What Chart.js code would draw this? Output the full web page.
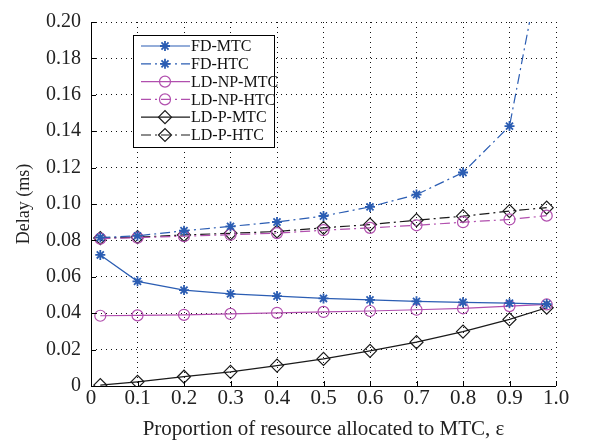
<!DOCTYPE html>
<html lang="en">
<head>
  <meta charset="UTF-8">
  <title>Delay vs proportion of resource</title>
  <script src="https://cdn.jsdelivr.net/npm/chart.js"></script>
  <style>
    body { margin: 0; background: #fff; }
    #wrap { width: 597px; height: 446px; }
  </style>
</head>
<body>
  <div id="wrap"><canvas id="delayChart" width="597" height="446"></canvas></div>

  <script>
    // x positions (epsilon)
    const eps = [0.02, 0.1, 0.2, 0.3, 0.4, 0.5, 0.6, 0.7, 0.8, 0.9, 0.98];

    const seriesNames = ['FD-MTC', 'FD-HTC', 'LD-NP-MTC', 'LD-NP-HTC', 'LD-P-MTC', 'LD-P-HTC'];

    const fdMtc   = [0.0720, 0.0575, 0.0527, 0.0506, 0.0494, 0.0481, 0.0473, 0.0465, 0.0460, 0.0455, 0.0450];
    const fdHtc   = [0.0816, 0.0825, 0.0853, 0.0877, 0.0901, 0.0934, 0.0984, 0.1052, 0.1173, 0.1428, 0.2490];
    const ldNpMtc = [0.0386, 0.0388, 0.0391, 0.0396, 0.0402, 0.0407, 0.0412, 0.0419, 0.0427, 0.0439, 0.0448];
    const ldNpHtc = [0.0810, 0.0815, 0.0823, 0.0831, 0.0840, 0.0856, 0.0869, 0.0883, 0.0900, 0.0915, 0.0936];
    const ldPMtc  = [0.0005, 0.0023, 0.0051, 0.0078, 0.0112, 0.0149, 0.0193, 0.0241, 0.0299, 0.0366, 0.0430];
    const ldPHtc  = [0.0813, 0.0818, 0.0830, 0.0839, 0.0849, 0.0869, 0.0887, 0.0911, 0.0933, 0.0961, 0.0980];

    const yTicks = [0, 0.02, 0.04, 0.06, 0.08, 0.10, 0.12, 0.14, 0.16, 0.18, 0.20];
    const xTicks = [0, 0.1, 0.2, 0.3, 0.4, 0.5, 0.6, 0.7, 0.8, 0.9, 1.0];

    const BLUE = '#2b5db3';
    const MAG = '#b14fae';
    const BLK = '#1a1a1a';
    const DASHDOT = [10, 4, 2, 4];
    const FONT = '"Liberation Serif", "Times New Roman", serif';

    function pts(arr) {
      return eps.map((x, i) => ({ x: x, y: arr[i] }));
    }

    function makeSet(name, arr, color, style, dash, radius) {
      return {
        label: name,
        data: pts(arr),
        borderColor: color,
        backgroundColor: 'rgba(0,0,0,0)',
        pointBorderColor: color,
        pointBackgroundColor: 'rgba(0,0,0,0)',
        pointStyle: style,
        pointRadius: radius,
        pointBorderWidth: style === 'star' ? 1.8 : 1.2,
        borderWidth: 1.2,
        borderDash: dash,
        tension: 0,
        clip: 0
      };
    }

    const datasets = [
      makeSet(seriesNames[0], fdMtc, BLUE, 'star', [], 5),
      makeSet(seriesNames[1], fdHtc, BLUE, 'star', DASHDOT, 5),
      makeSet(seriesNames[2], ldNpMtc, MAG, 'circle', [], 5.5),
      makeSet(seriesNames[3], ldNpHtc, MAG, 'circle', DASHDOT, 5.5),
      makeSet(seriesNames[4], ldPMtc, BLK, 'rectRot', [], 6.5),
      makeSet(seriesNames[5], ldPHtc, BLK, 'rectRot', DASHDOT, 6.5)
    ];

    // inward tick marks, matlab style
    const innerTicks = {
      id: 'innerTicks',
      afterDatasetsDraw(chart) {
        const ctx = chart.ctx;
        const xs = chart.scales.x, ys = chart.scales.y;
        const a = chart.chartArea;
        ctx.save();
        ctx.strokeStyle = '#000';
        ctx.lineWidth = 1;
        ctx.setLineDash([]);
        ctx.beginPath();
        xTicks.forEach(v => {
          const px = Math.round(xs.getPixelForValue(v)) + 0.5;
          ctx.moveTo(px, a.bottom);
          ctx.lineTo(px, a.bottom - 5);
        });
        yTicks.forEach(v => {
          const py = Math.round(ys.getPixelForValue(v)) + 0.5;
          ctx.moveTo(a.left, py);
          ctx.lineTo(a.left + 5, py);
        });
        // solid left and bottom axis lines
        ctx.moveTo(Math.round(a.left) + 0.5, a.top);
        ctx.lineTo(Math.round(a.left) + 0.5, Math.round(a.bottom) + 0.5);
        ctx.lineTo(a.right, Math.round(a.bottom) + 0.5);
        ctx.stroke();
        ctx.restore();
      }
    };

    // legend box drawn inside the plot
    const boxLegend = {
      id: 'boxLegend',
      afterDraw(chart) {
        const ctx = chart.ctx;
        const bx = 133, by = 35, bw = 141, bh = 112;
        ctx.save();
        ctx.fillStyle = '#fff';
        ctx.fillRect(bx, by, bw, bh);
        ctx.strokeStyle = '#000';
        ctx.lineWidth = 1;
        ctx.setLineDash([]);
        ctx.strokeRect(bx + 0.5, by + 0.5, bw, bh);
        ctx.font = '16px ' + FONT;
        ctx.textBaseline = 'middle';
        chart.data.datasets.forEach((ds, i) => {
          const y = by + 11 + i * 17.8;
          ctx.strokeStyle = ds.borderColor;
          ctx.lineWidth = ds.borderWidth;
          ctx.setLineDash(ds.borderDash);
          ctx.beginPath();
          ctx.moveTo(141, y);
          ctx.lineTo(190, y);
          ctx.stroke();
          ctx.setLineDash([]);
          ctx.fillStyle = 'rgba(0,0,0,0)';
          ctx.lineWidth = ds.pointBorderWidth;
          Chart.helpers.drawPoint(ctx, {
            pointStyle: ds.pointStyle,
            radius: ds.pointRadius,
            borderWidth: ds.pointBorderWidth,
            rotation: 0
          }, 165, y);
          ctx.fillStyle = '#111';
          ctx.fillText(ds.label, 191, y + 1);
        });
        ctx.restore();
      }
    };

    const gridOpts = {
      color: '#111',
      lineWidth: 1,
      drawTicks: false
    };

    new Chart(document.getElementById('delayChart'), {
      type: 'line',
      data: { datasets: datasets },
      options: {
        responsive: false,
        animation: false,
        layout: { padding: { top: 10, right: 41, left: 0, bottom: 0 } },
        plugins: {
          legend: { display: false },
          tooltip: { enabled: false }
        },
        scales: {
          x: {
            type: 'linear',
            min: 0,
            max: 1,
            afterBuildTicks(scale) { scale.ticks = xTicks.map(v => ({ value: v })); },
            afterFit(scale) { scale.height = 60; },
            grid: Object.assign({}, gridOpts),
            border: { display: false, dash: [1, 4] },
            ticks: {
              padding: 0,
              color: '#222',
              font: { family: FONT, size: 21 },
              maxRotation: 0,
              callback: v => (v === 0 ? '0' : v.toFixed(1))
            },
            title: {
              display: true,
              text: 'Proportion of resource allocated to MTC, \u03b5',
              color: '#222',
              font: { family: FONT, size: 21 },
              padding: { top: 0, bottom: 4 }
            }
          },
          y: {
            type: 'linear',
            min: 0,
            max: 0.2,
            afterBuildTicks(scale) { scale.ticks = yTicks.map(v => ({ value: v })); },
            afterFit(scale) { scale.width = 91; },
            grid: Object.assign({}, gridOpts),
            border: { display: false, dash: [1, 4] },
            ticks: {
              padding: 10,
              color: '#222',
              font: { family: FONT, size: 20 },
              callback: v => (v === 0 ? '0' : v.toFixed(2))
            },
            title: {
              display: true,
              text: 'Delay (ms)',
              color: '#222',
              font: { family: FONT, size: 18 },
              padding: { top: 13, bottom: 0 }
            }
          }
        }
      },
      plugins: [innerTicks, boxLegend]
    });
  </script>
</body>
</html>
